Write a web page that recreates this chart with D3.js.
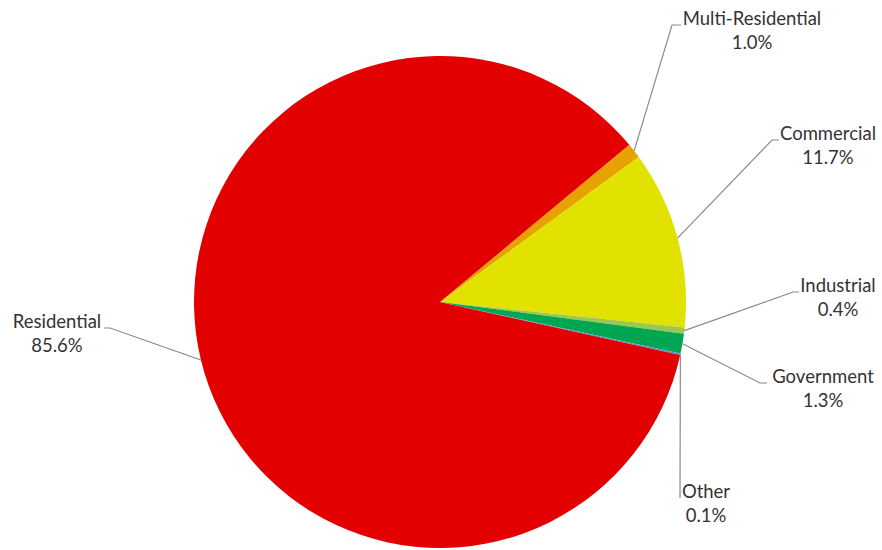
<!DOCTYPE html>
<html>
<head>
<meta charset="utf-8">
<script src="https://cdn.jsdelivr.net/npm/d3@7"></script>
<style>
  body { margin: 0; background: #fff; }
  text { font-family: Lato, "Open Sans", sans-serif; font-size: 18.5px; fill: #333; }
</style>
</head>
<body>
<div id="chart"></div>
<script>
// data
const categories = ["Multi-Residential", "Commercial", "Industrial", "Government", "Other", "Residential"];
const shares = [1.0, 11.7, 0.4, 1.3, 0.1, 85.6];
const colors = ["#e8a200", "#e2e200", "#9cc84e", "#00a651", "#4f9bd0", "#e20000"];

// label layout: elbow point of leader line, text anchor point (first baseline)
const labelLayout = [
    { ex: 672, ey: 25, hx: 681, tx: 752, ty: 25 },
    { ex: 772, ey: 140, hx: 779, tx: 828, ty: 140 },
    { ex: 793, ey: 292, hx: 799, tx: 838, ty: 292 },
    { ex: 760, ey: 383, hx: 767, tx: 823, ty: 383 },
    { ex: 680, ey: 498, hx: 680, tx: 706, ty: 498 },
    { ex: 110, ey: 328, hx: 104, tx: 57, ty: 328 }
];

const width = 882,
    height = 550,
    cx = 440,
    cy = 302,
    radius = 246,
    startDeg = 50.3;

const svg = d3.select("#chart").append("svg")
    .attr("width", width)
    .attr("height", height);

const rows = categories.map((c, i) => ({ name: c, value: shares[i], color: colors[i], pos: labelLayout[i] }));

const pie = d3.pie()
    .sort(null)
    .value(d => d.value)
    .startAngle(startDeg * Math.PI / 180)
    .endAngle(startDeg * Math.PI / 180 + 2 * Math.PI);

const arc = d3.arc().innerRadius(0).outerRadius(radius);

const g = svg.append("g").attr("transform", "translate(" + cx + "," + cy + ")");

const arcs = pie(rows);

g.selectAll("path.slice")
    .data(arcs)
    .join("path")
    .attr("class", "slice")
    .attr("d", arc)
    .attr("fill", d => d.data.color);

// leader lines start on the rim at the slice mid angle
arcs.forEach(a => {
    const mid = (a.startAngle + a.endAngle) / 2;
    const sx = cx + radius * Math.sin(mid);
    const sy = cy - radius * Math.cos(mid);
    const p = a.data.pos;
    svg.append("polyline")
        .attr("points", [[sx, sy], [p.ex, p.ey], [p.hx, p.ey]].map(q => q.join(",")).join(" "))
        .attr("fill", "none")
        .attr("stroke", "#8a8a8a")
        .attr("stroke-width", 1.2);

    const t = svg.append("text")
        .attr("text-anchor", "middle")
        .attr("x", p.tx)
        .attr("y", p.ty);
    t.append("tspan").attr("x", p.tx).text(a.data.name);
    t.append("tspan").attr("x", p.tx).attr("dy", 24).text(d3.format(".1f")(a.data.value) + "%");
});
</script>
</body>
</html>
